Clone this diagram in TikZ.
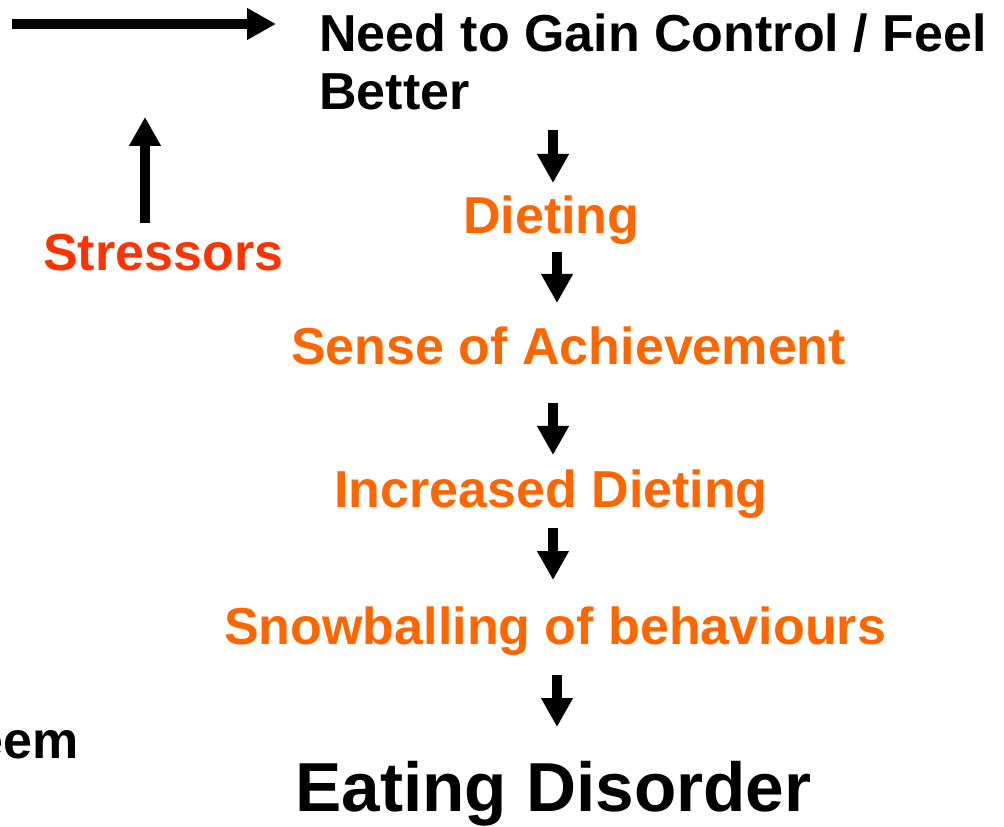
\documentclass[tikz,border=0pt]{standalone}
\usepackage{fontspec}
\setmainfont{Liberation Sans}
\usetikzlibrary{arrows.meta}
\definecolor{steporange}{HTML}{FF6600}
\definecolor{stressred}{HTML}{FF3300}
\begin{document}
\begin{tikzpicture}[x=0.75pt,y=-0.75pt,
  lbl/.style={anchor=base west,inner sep=0pt,font=\bfseries\fontsize{39}{47}\selectfont},
  steptxt/.style={lbl,text=steporange},
  flow/.style={line width=7.5pt,-{Triangle[length=21.75pt,width=22.5pt]}}]
\useasboundingbox (0,0) rectangle (1004,827);
\clip (0,0) rectangle (1004,827);
% labels
\node[lbl] (need) at (319,52) {Need to Gain Control / Feel};
\node[lbl] (better) at (319,110) {Better};
\node[steptxt] (diet) at (463,234) {Dieting};
\node[lbl,text=stressred] (stress) at (43,271) {Stressors};
\node[steptxt] (achieve) at (291,365) {Sense of Achievement};
\node[steptxt] (incr) at (334,508) {Increased Dieting};
\node[steptxt] (snow) at (224,644) {Snowballing of behaviours};
\node[lbl,anchor=base east] (esteem) at (79,758) {eem};
\node[lbl,font=\bfseries\fontsize{52}{60}\selectfont] (ed) at (295,811) {Eating Disorder};
% arrow end points
\coordinate (h0) at (12,24);   \coordinate (h1) at (276,24);
\coordinate (u0) at (145,223); \coordinate (u1) at (145,117);
\coordinate (a0) at (553,130); \coordinate (a1) at (553,183);
\coordinate (b0) at (557,252); \coordinate (b1) at (557,303);
\coordinate (c0) at (553,403); \coordinate (c1) at (553,455);
\coordinate (d0) at (553,528); \coordinate (d1) at (553,580);
\coordinate (e0) at (557,675); \coordinate (e1) at (557,727);
% arrows
\draw[flow] (h0) -- (h1);
\draw[flow] (u0) -- (u1);
\draw[flow] (a0) -- (a1);
\draw[flow] (b0) -- (b1);
\draw[flow] (c0) -- (c1);
\draw[flow] (d0) -- (d1);
\draw[flow] (e0) -- (e1);
\end{tikzpicture}
\end{document}
